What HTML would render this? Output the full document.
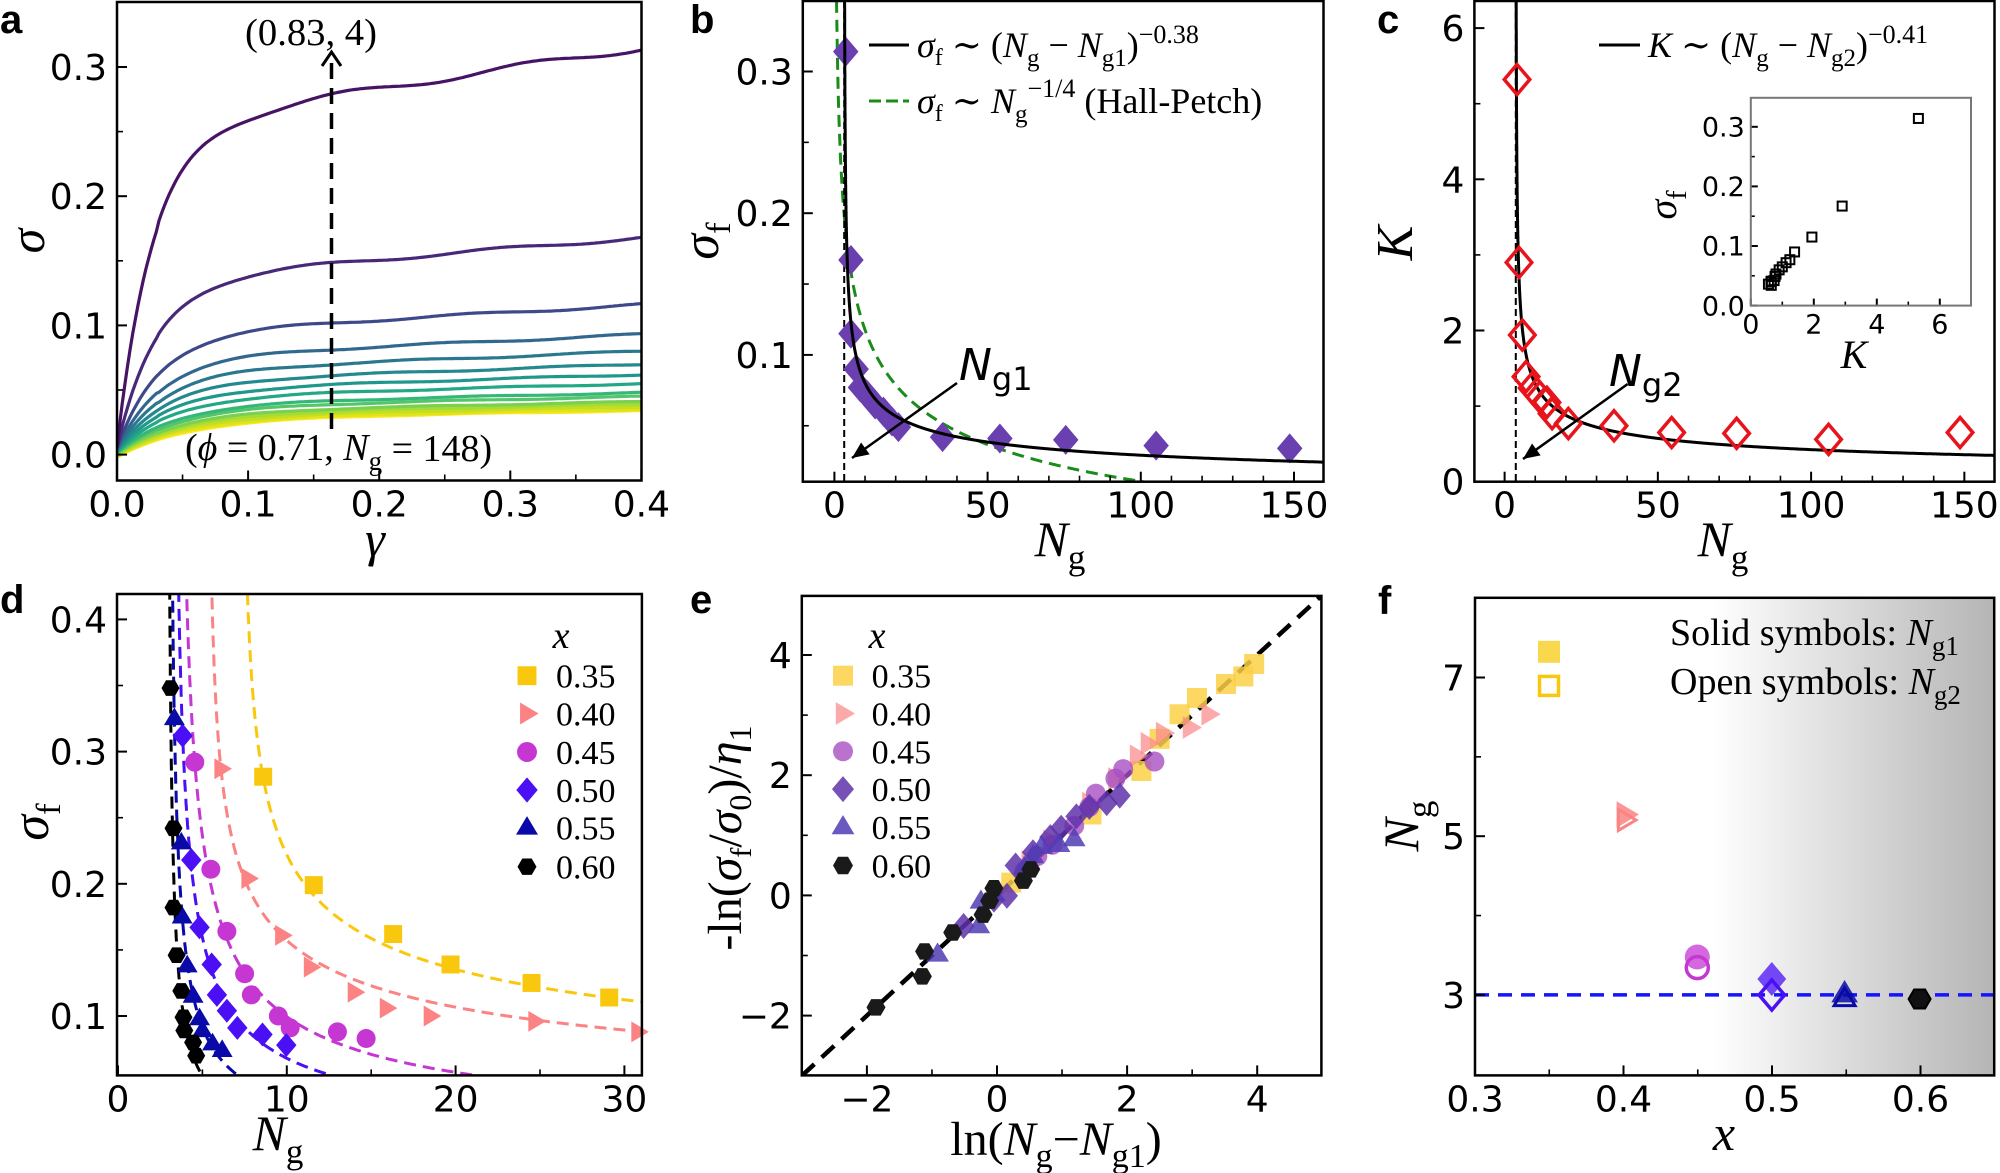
<!DOCTYPE html>
<html><head><meta charset="utf-8"><style>
html,body{margin:0;padding:0;background:#fff;}
svg{display:block;}
</style></head><body>
<div id="c"></div>
<script>
const SANS='font-family="DejaVu Sans, Liberation Sans, sans-serif"';
const SERIF='font-family="Liberation Serif, DejaVu Serif, serif"';
let s='';
function line(x1,y1,x2,y2,st,w,extra){s+=`<line x1="${x1}" y1="${y1}" x2="${x2}" y2="${y2}" stroke="${st}" stroke-width="${w}" ${extra||''}/>`;}
function poly(pts,st,w,extra){s+=`<polyline points="${pts.map(p=>p[0].toFixed(1)+','+p[1].toFixed(1)).join(' ')}" fill="none" stroke="${st}" stroke-width="${w}" stroke-linejoin="round" ${extra||''}/>`;}
function txt(x,y,t,attrs){s+=`<text x="${x}" y="${y}" ${attrs}>${t}</text>`;}
function axes(o){
  const fs=o.fs||36;
  for(let i=0;i<o.xmaj.length;i++){const x=o.X(o.xmaj[i]);line(x,o.B,x,o.B-(o.tl||10),'#000',2);
    txt(x,o.B+(o.xo||36),o.xlab[i],`${SANS} font-size="${fs}" text-anchor="middle"`);}
  (o.xmin||[]).forEach(v=>{const x=o.X(v);line(x,o.B,x,o.B-(o.tm||6),'#000',1.6);});
  for(let i=0;i<o.ymaj.length;i++){const y=o.Y(o.ymaj[i]);line(o.L,y,o.L+(o.tl||10),y,'#000',2);
    txt(o.L-(o.yo||10),y+fs*0.36,o.ylab[i],`${SANS} font-size="${fs}" text-anchor="end"`);}
  (o.ymin||[]).forEach(v=>{const y=o.Y(v);line(o.L,y,o.L+(o.tm||6),y,'#000',1.6);});
}
function frame(L,T,R,B,c,w){s+=`<rect x="${L}" y="${T}" width="${R-L}" height="${B-T}" fill="none" stroke="${c||'#000'}" stroke-width="${w||2.5}"/>`;}
function clip(id,L,T,R,B){s+=`<clipPath id="${id}"><rect x="${L}" y="${T}" width="${R-L}" height="${B-T}"/></clipPath>`;}
function sq(x,y,h,f,st,w){s+=`<rect x="${x-h}" y="${y-h}" width="${2*h}" height="${2*h}" fill="${f}" stroke="${st||'none'}" stroke-width="${w||0}"/>`;}
function dia(x,y,h,f,st,w){s+=`<polygon points="${x},${y-h} ${x+h*0.85},${y} ${x},${y+h} ${x-h*0.85},${y}" fill="${f}" stroke="${st||'none'}" stroke-width="${w||0}"/>`;}
function triR(x,y,h,f,st,w){s+=`<polygon points="${x+h},${y} ${x-h*0.6},${y-h*0.95} ${x-h*0.6},${y+h*0.95}" fill="${f}" stroke="${st||'none'}" stroke-width="${w||0}"/>`;}
function triU(x,y,h,f,st,w){s+=`<polygon points="${x},${y-h} ${x-h*0.95},${y+h*0.6} ${x+h*0.95},${y+h*0.6}" fill="${f}" stroke="${st||'none'}" stroke-width="${w||0}"/>`;}
function circ(x,y,r,f,st,w){s+=`<circle cx="${x}" cy="${y}" r="${r}" fill="${f}" stroke="${st||'none'}" stroke-width="${w||0}"/>`;}
function hex(x,y,r,f,st,w){let p=[];for(let k=0;k<6;k++){const a=Math.PI/3*k;p.push((x+r*Math.cos(a)).toFixed(1)+','+(y+r*Math.sin(a)).toFixed(1));}s+=`<polygon points="${p.join(' ')}" fill="${f}" stroke="${st||'none'}" stroke-width="${w||0}"/>`;}
function arrow(x1,y1,x2,y2,w){line(x1,y1,x2,y2,'#000',w);const a=Math.atan2(y2-y1,x2-x1),L=18,b=0.42;
  s+=`<polygon points="${x2},${y2} ${x2-L*Math.cos(a-b)},${y2-L*Math.sin(a-b)} ${x2-L*Math.cos(a+b)},${y2-L*Math.sin(a+b)}" fill="#000"/>`;}
const Ng=(fs)=>`<tspan font-style="italic">N</tspan><tspan font-size="${(fs*0.7).toFixed(0)}" dy="${(fs*0.25).toFixed(0)}">g</tspan>`;

// ================= Panel a =================
(function(){
const L=117,T=2,R=641.5,B=480.5;const X=g=>L+g*1311,Y=v=>454.6-v*1292;
clip('ca',L,T,R,B);
const vals=[0.315,0.168,0.116,0.093,0.080,0.070,0.062,0.055,0.048,0.045,0.041,0.039,0.037,0.035,0.034];
const cols=['#471365','#482878','#3e4989','#31688e','#2a788e','#23898e','#1f988b','#22a884','#35b779','#54c568','#7ad151','#a5db36','#c2df23','#dfe318','#fde725'];
for(let i=vals.length-1;i>=0;i--){const v=vals[i];const A=0.80*v,Bs=0.20*v/0.4;const gc=0.028+0.025*(i/14);
  const s0=0.006-0.008*(i/14);
  let pts=[];for(let k=0;k<=200;k++){const gm=k/200*0.4;let val=s0+(A-s0)*(1-Math.exp(-gm/gc))+Bs*gm+v*0.008*Math.sin(gm*45+i)*(gm>0.03?1:0);pts.push([X(gm),Y(val)]);}
  poly(pts,cols[i],3.2,'clip-path="url(#ca)"');}
axes({L,T,R,B,X,Y,xmaj:[0,.1,.2,.3,.4],xlab:['0.0','0.1','0.2','0.3','0.4'],xmin:[.05,.15,.25,.35],ymaj:[0,.1,.2,.3],ylab:['0.0','0.1','0.2','0.3'],ymin:[.05,.15,.25]});
frame(L,T,R,B);
line(331.5,429,331.5,62,'#000',3.5,'stroke-dasharray="16 9"');
s+=`<polyline points="322,66 331.5,52 341,66" fill="none" stroke="#000" stroke-width="3"/>`;
txt(245,45,'(0.83, 4)',`${SERIF} font-size="38" textLength="132" lengthAdjust="spacingAndGlyphs"`);
txt(185,460,`(<tspan font-style="italic">ϕ</tspan> = 0.71, ${Ng(38)}<tspan dy="-9"> = 148)</tspan>`,`${SERIF} font-size="38"`);
txt(375,556,'γ',`${SERIF} font-size="50" font-style="italic" text-anchor="middle"`);
txt(44,241,'σ',`${SERIF} font-size="50" font-style="italic" text-anchor="middle" transform="rotate(-90 44 241)"`);
txt(0,33,'a',`font-family="Liberation Sans, sans-serif" font-weight="bold" font-size="40"`);
})();

// ================= Panel b =================
(function(){
const L=802.8,T=1,R=1323.5,B=481.7;const X=n=>834.4+n*3.064,Y=v=>496.6-v*1417;
clip('cb',L,T,R,B);
let pts=[];for(let n=0.5;n<=160;n+=0.25){pts.push([X(n),Y(0.4346*Math.pow(n,-0.25)-0.1267)]);}
poly(pts,'#1a8c1a',3,'stroke-dasharray="12 7" clip-path="url(#cb)"');
line(X(3.2),T,X(3.2),B,'#000',2,'stroke-dasharray="7 4"');
const d=[[3.7,.314],[5.4,.167],[5.4,.115],[7.1,.090],[8.5,.077],[10.6,.072],[13.3,.065],[16,.060],[18.8,.053],[20.9,.049],[35.3,.042],[54,.041],[75.5,.040],[105,.036],[148.6,.034]];
d.forEach(p=>dia(X(p[0]),Y(p[1]),15,'#6a3fb0'));
pts=[];for(let n=3.2005;n<=160;n*=1.0+0.002){pts.push([X(n),Y(0.166*Math.pow(n-3.2,-0.38))]);if(n<4)n+=0.0005;}
poly(pts,'#000',3,'clip-path="url(#cb)"');
axes({L,T,R,B,X,Y,xmaj:[0,50,100,150],xlab:['0','50','100','150'],xmin:[10,20,30,40,60,70,80,90,110,120,130,140],ymaj:[.1,.2,.3],ylab:['0.1','0.2','0.3'],ymin:[.05,.15,.25]});
frame(L,T,R,B);
line(869,45,909,45,'#000',3);
line(869,101,909,101,'#1a8c1a',3,'stroke-dasharray="12 5"');
txt(917,57,`<tspan font-style="italic">σ</tspan><tspan font-size="24" dy="8">f</tspan><tspan dy="-8"> ∼ (</tspan>${Ng(36)}<tspan dy="-9"> − </tspan><tspan font-style="italic">N</tspan><tspan font-size="25" dy="9">g1</tspan><tspan dy="-9">)</tspan><tspan font-size="26" dy="-14">−0.38</tspan>`,`${SERIF} font-size="36"`);
txt(917,113,`<tspan font-style="italic">σ</tspan><tspan font-size="24" dy="8">f</tspan><tspan dy="-8"> ∼ </tspan>${Ng(36)}<tspan font-size="26" dy="-25">−1/4</tspan><tspan dy="16"> (Hall-Petch)</tspan>`,`${SERIF} font-size="36"`);
arrow(957,383,852,458,2.5);
txt(959,380,`<tspan font-style="italic">N</tspan><tspan font-size="32" dy="10">g1</tspan>`,`font-family="DejaVu Sans, sans-serif" font-size="44"`);
txt(1060,556,Ng(50),`${SERIF} font-size="50" text-anchor="middle"`);
txt(718,241,`<tspan font-style="italic">σ</tspan><tspan font-size="35" dy="12">f</tspan>`,`${SERIF} font-size="52" text-anchor="middle" transform="rotate(-90 718 241)"`);
txt(690,33,'b',`font-family="Liberation Sans, sans-serif" font-weight="bold" font-size="40"`);
})();

// ================= Panel c =================
(function(){
const L=1474.4,T=1,R=1994.5,B=481.7;const X=n=>1504.6+n*3.065,Y=v=>481.7-v*75.6;
clip('cc',L,T,R,B);
line(X(3.65),T,X(3.65),B,'#000',2,'stroke-dasharray="7 4"');
let pts=[];for(let n=3.6505;n<=160;n*=1.002){pts.push([X(n),Y(2.76*Math.pow(n-3.65,-0.41))]);if(n<4.5)n+=0.0003;}
poly(pts,'#000',3,'clip-path="url(#cc)"');
const d=[[4.05,5.32],[4.7,2.90],[5.8,1.94],[7,1.39],[9,1.24],[11.5,1.12],[13.8,1.05],[15.5,0.9],[20.8,0.77],[35.7,0.74],[54.5,0.65],[75.7,0.64],[105.7,0.56],[148.6,0.65]];
d.forEach(p=>dia(X(p[0]),Y(p[1]),15,'none','#e8141c',3.5));
axes({L,T,R,B,X,Y,xmaj:[0,50,100,150],xlab:['0','50','100','150'],xmin:[10,20,30,40,60,70,80,90,110,120,130,140],ymaj:[0,2,4,6],ylab:['0','2','4','6'],ymin:[1,3,5]});
frame(L,T,R,B);
line(1599,45,1640,45,'#000',3);
txt(1648,57,`<tspan font-style="italic">K</tspan> ∼ (${Ng(36)}<tspan dy="-9"> − </tspan><tspan font-style="italic">N</tspan><tspan font-size="25" dy="9">g2</tspan><tspan dy="-9">)</tspan><tspan font-size="26" dy="-14">−0.41</tspan>`,`${SERIF} font-size="36"`);
arrow(1627.7,384,1523,459,2.5);
txt(1609,386,`<tspan font-style="italic">N</tspan><tspan font-size="32" dy="10">g2</tspan>`,`font-family="DejaVu Sans, sans-serif" font-size="44"`);
const iL=1750.8,iT=97.8,iR=1971,iB=305.6;const iX=k=>iL+k*31.5,iY=v=>iB-v*596;
s+=`<rect x="${iL}" y="${iT}" width="${iR-iL}" height="${iB-iT}" fill="#fff"/>`;
const ks=[[5.32,.314],[2.90,.167],[1.94,.115],[1.39,.090],[1.24,.077],[1.12,.072],[1.0,.065],[0.9,.060],[0.8,.053],[0.77,.049],[0.74,.042],[0.65,.041],[0.64,.040],[0.56,.036],[0.65,.034]];
ks.forEach(p=>sq(iX(p[0]),iY(p[1]),4.5,'none','#000',2));
axes({L:iL,T:iT,R:iR,B:iB,X:iX,Y:iY,fs:27,xo:28,yo:6,tl:7,tm:4,xmaj:[0,2,4,6],xlab:['0','2','4','6'],xmin:[1,3,5],ymaj:[0,.1,.2,.3],ylab:['0.0','0.1','0.2','0.3'],ymin:[.05,.15,.25]});
frame(iL,iT,iR,iB,'#777',2);
txt(1854,368,'K',`${SERIF} font-size="40" font-style="italic" text-anchor="middle"`);
txt(1676,205,`<tspan font-style="italic">σ</tspan><tspan font-size="28" dy="10">f</tspan>`,`${SERIF} font-size="40" text-anchor="middle" transform="rotate(-90 1676 205)"`);
txt(1723,556,Ng(50),`${SERIF} font-size="50" text-anchor="middle"`);
txt(1412,243,'K',`${SERIF} font-size="52" font-style="italic" text-anchor="middle" transform="rotate(-90 1412 243)"`);
txt(1377,33,'c',`font-family="Liberation Sans, sans-serif" font-weight="bold" font-size="40"`);
})();

// ================= Panel d =================
(function(){
const L=117,T=594,R=641.9,B=1075.4;const X=n=>118+n*16.88,Y=v=>1148.2-v*1322;
clip('cd',L,T,R,B);
const ser=[
 {c:'#f9c80e',m:'sq',n1:7.3,a:0.305,e:0.32,d:[[8.6,.281],[11.6,.199],[16.3,.162],[19.7,.139],[24.5,.125],[29.1,.114]]},
 {c:'#fb8383',m:'tr',n1:5.3,a:0.266,e:0.34,d:[[6.1,.287],[7.7,.204],[9.7,.161],[11.4,.137],[14,.118],[15.9,.106],[18.5,.1],[24.7,.096],[30.8,.088]]},
 {c:'#c536d3',m:'ci',n1:3.5,a:0.30,e:0.59,d:[[4.55,.292],[5.5,.211],[6.45,.164],[7.5,.132],[7.9,.116],[9.5,.1],[10.2,.091],[13,.088],[14.7,.083]]},
 {c:'#4a0ff5',m:'di',n1:3.2,a:0.232,e:0.64,d:[[3.83,.312],[4.34,.218],[4.83,.167],[5.55,.139],[5.86,.116],[6.45,.104],[7.07,.091],[8.56,.086],[9.97,.078]]},
 {c:'#0a0aa8',m:'tu',n1:3.0,a:0.150,e:0.71,d:[[3.34,.325],[3.75,.231],[3.8,.175],[4.1,.138],[4.45,.115],[4.83,.098],[5,.089],[5.6,.079],[6.17,.074]]},
 {c:'#000',m:'hx',n1:2.9,a:0.099,e:0.80,d:[[3.11,.348],[3.29,.242],[3.29,.182],[3.47,.146],[3.75,.119],[3.88,.099],[3.93,.089],[4.45,.080],[4.63,.070]]}];
ser.forEach(o=>{let pts=[];let n=o.n1+0.02;while(n<=32){pts.push([X(n),Y(o.a*Math.pow(n-o.n1,-o.e))]);n+=(n-o.n1<1)?0.01:0.1;}
  poly(pts,o.c,3,'stroke-dasharray="12 7" clip-path="url(#cd)"');});
function mk(m,x,y,c,sc){sc=sc||1;if(m=='sq')sq(x,y,9*sc,c);else if(m=='tr')triR(x,y,11*sc,c);else if(m=='ci')circ(x,y,9.5*sc,c);else if(m=='di')dia(x,y,12*sc,c);else if(m=='tu')triU(x,y,11*sc,c);else hex(x,y,9*sc,c);}
ser.forEach(o=>o.d.forEach(p=>mk(o.m,X(p[0]),Y(p[1]),o.c)));
axes({L,T,R,B,X,Y,xmaj:[0,10,20,30],xlab:['0','10','20','30'],xmin:[5,15,25],ymaj:[.1,.2,.3,.4],ylab:['0.1','0.2','0.3','0.4'],ymin:[.15,.25,.35]});
frame(L,T,R,B);
txt(561,648,'x',`${SERIF} font-size="38" font-style="italic" text-anchor="middle"`);
const labs=['0.35','0.40','0.45','0.50','0.55','0.60'],ys=[675.7,713.5,752,790,827.7,866.7];
ser.forEach((o,i)=>{mk(o.m,527,ys[i],o.c,1.05);txt(556,ys[i]+12,labs[i],`${SERIF} font-size="34"`);});
txt(278,1150,Ng(50),`${SERIF} font-size="50" text-anchor="middle"`);
txt(48,822,`<tspan font-style="italic">σ</tspan><tspan font-size="35" dy="12">f</tspan>`,`${SERIF} font-size="52" text-anchor="middle" transform="rotate(-90 48 822)"`);
txt(0,613,'d',`font-family="Liberation Sans, sans-serif" font-weight="bold" font-size="40"`);
})();

// ================= Panel e =================
(function(){
const L=801.8,T=595.9,R=1321.4,B=1075.4;const X=v=>997+v*65.05,Y=v=>895.4-v*60.1;
const ZX=x=>660+x*0.4337,ZY=y=>580+y*0.3782;
clip('ce',L,T,R,B);
line(X(-3),Y(-3),X(5),Y(5),'#000',4.5,'stroke-dasharray="17 10" clip-path="url(#ce)"');
const cy='rgba(252,208,70,0.85)',cp='rgba(250,140,140,0.75)',cm='rgba(168,80,195,0.8)',cd='rgba(95,50,170,0.85)',ct='rgba(80,60,180,0.85)',ck='#1a1a1a';
const P={
 sq:[[1370,222],[1345,255],[1305,275],[1238,312],[1198,355],[1152,420],[1110,505],[995,620],[810,800]],
 tr:[[1265,355],[1222,390],[1160,405],[1125,432],[1100,465],[1050,525],[990,590],[900,690],[850,745]],
 ci:[[1140,480],[1068,500],[1050,525],[1005,565],[990,600],[955,650],[905,700],[870,730],[840,770]],
 di:[[1060,570],[1030,590],[990,600],[960,625],[925,655],[900,680],[860,720],[820,755],[800,835],[770,845],[700,915]],
 tu:[[955,685],[920,700],[880,705],[860,730],[840,760],[770,830],[740,850],[735,915],[640,990]],
 hx:[[498,1130],[605,1048],[610,982],[675,932],[745,885],[760,848],[770,815],[838,795],[855,765]]};
P.sq.forEach(p=>sq(ZX(p[0]),ZY(p[1]),10,cy));
P.tr.forEach(p=>triR(ZX(p[0]),ZY(p[1]),12,cp));
P.ci.forEach(p=>circ(ZX(p[0]),ZY(p[1]),10,cm));
P.di.forEach(p=>dia(ZX(p[0]),ZY(p[1]),13,cd));
P.tu.forEach(p=>triU(ZX(p[0]),ZY(p[1]),12,ct));
P.hx.forEach(p=>hex(ZX(p[0]),ZY(p[1]),9.5,ck));
axes({L,T,R,B,X,Y,xmaj:[-2,0,2,4],xlab:['−2','0','2','4'],xmin:[-1,1,3],ymaj:[-2,0,2,4],ylab:['−2','0','2','4'],ymin:[-1,1,3]});
frame(L,T,R,B);
txt(877,648,'x',`${SERIF} font-size="38" font-style="italic" text-anchor="middle"`);
const labs=['0.35','0.40','0.45','0.50','0.55','0.60'],ys=[675.7,713.5,751.3,789.1,827,865.5];
sq(843,ys[0],10,cy);triR(843,ys[1],12,cp);circ(843,ys[2],10,cm);dia(843,ys[3],13,cd);triU(843,ys[4],12,ct);hex(843,ys[5],10,ck);
labs.forEach((l,i)=>txt(871.6,ys[i]+12,l,`${SERIF} font-size="34"`));
txt(1056,1155,`ln(${Ng(48)}<tspan dy="-12">−</tspan><tspan font-style="italic">N</tspan><tspan font-size="34" dy="12">g1</tspan><tspan dy="-12">)</tspan>`,`${SERIF} font-size="48" text-anchor="middle"`);
txt(741,838,`-ln(<tspan font-style="italic">σ</tspan><tspan font-size="30" dy="10">f</tspan><tspan dy="-10">/</tspan><tspan font-style="italic">σ</tspan><tspan font-size="32" dy="10">0</tspan><tspan dy="-10">)/</tspan><tspan font-style="italic">η</tspan><tspan font-size="32" dy="10">1</tspan>`,`${SERIF} font-size="48" text-anchor="middle" transform="rotate(-90 741 838)"`);
txt(690,613,'e',`font-family="Liberation Sans, sans-serif" font-weight="bold" font-size="40"`);
})();

// ================= Panel f =================
(function(){
const L=1475,T=597.8,R=1994.2,B=1075.4;const X=v=>1475+(v-0.3)*1485,Y=v=>994.9-(v-3)*79.35;
s+=`<linearGradient id="gf" x1="0" x2="1" y1="0" y2="0"><stop offset="0" stop-color="#fff"/><stop offset="1" stop-color="#b5b5b5"/></linearGradient>`;
s+=`<rect x="1712" y="${T}" width="${R-1712}" height="${B-T}" fill="url(#gf)"/>`;
line(L,Y(3),R,Y(3),'#1414ff',3.5,'stroke-dasharray="14 9"');
sq(1549,651.8,11,'#fad84e');sq(1549,685.9,9.5,'none','#f9c80e',3.5);
triR(1625,814.5,14,'rgba(251,131,131,0.85)');triR(1625,820,11,'none','#fb8383',3);
circ(1697.3,957,12.5,'rgba(197,54,211,0.75)');circ(1697.3,967.6,11,'none','#c536d3',3.5);
dia(1771.8,979,17,'rgba(74,15,245,0.75)');dia(1771.8,995,15,'none','#4a0ff5',3.5);
triU(1844.6,994,14,'rgba(10,10,168,0.85)');triU(1844.6,999,11,'none','#0a0aa8',3);
hex(1919.6,999,11,'#111','#000',2);
axes({L,T,R,B,X,Y,xmaj:[.3,.4,.5,.6],xlab:['0.3','0.4','0.5','0.6'],xmin:[.35,.45,.55],ymaj:[3,5,7],ylab:['3','5','7'],ymin:[4,6]});
frame(L,T,R,B);
txt(1670,645,`Solid symbols:  <tspan font-style="italic">N</tspan><tspan font-size="27" dy="10">g1</tspan>`,`${SERIF} font-size="38"`);
txt(1670,694,`Open symbols:  <tspan font-style="italic">N</tspan><tspan font-size="27" dy="10">g2</tspan>`,`${SERIF} font-size="38"`);
txt(1724,1150,'x',`${SERIF} font-size="50" font-style="italic" text-anchor="middle"`);
txt(1418,826,Ng(50),`${SERIF} font-size="50" text-anchor="middle" transform="rotate(-90 1418 826)"`);
txt(1378,614,'f',`font-family="Liberation Sans, sans-serif" font-weight="bold" font-size="40"`);
})();

document.getElementById('c').innerHTML=`<svg xmlns="http://www.w3.org/2000/svg" width="2000" height="1173" viewBox="0 0 2000 1173">${s}</svg>`;
</script>
</body></html>
